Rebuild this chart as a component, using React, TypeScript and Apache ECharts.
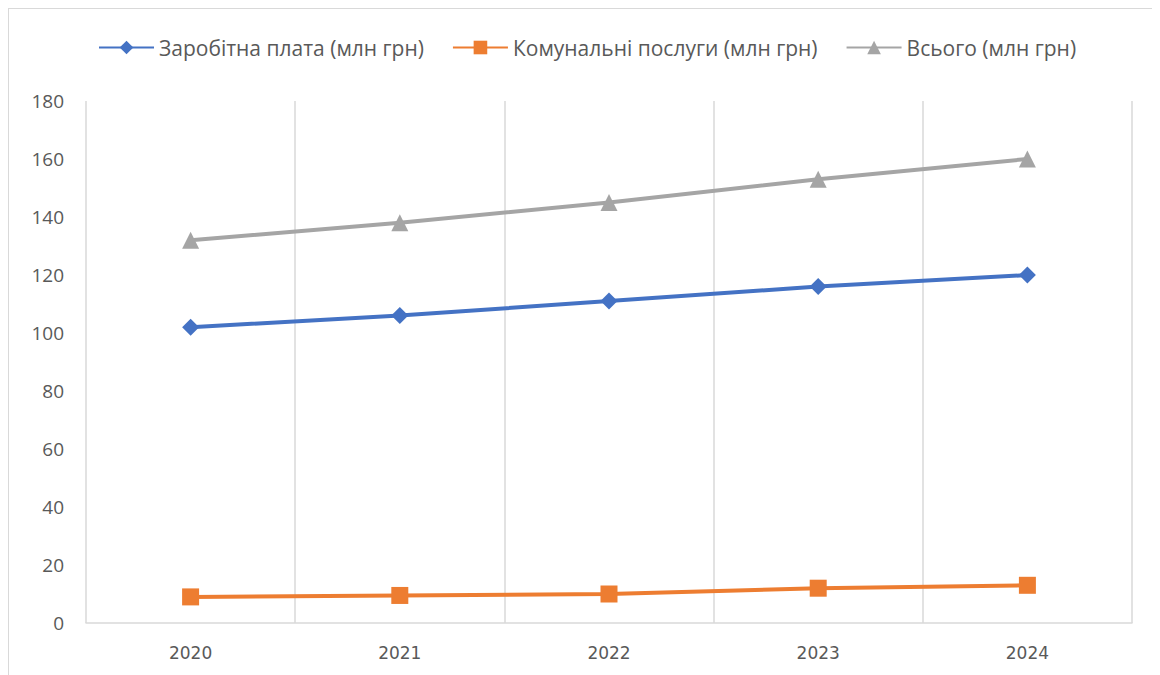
import React, { useEffect, useRef } from "react";
import * as echarts from "echarts";

const categories = ["2020", "2021", "2022", "2023", "2024"];
const salary = [102, 106, 111, 116, 120];
const utilities = [9, 9.5, 10, 12, 13];
const total = [132, 138, 145, 153, 160];
const seriesNames = [
  "Заробітна плата (млн грн)",
  "Комунальні послуги (млн грн)",
  "Всього (млн грн)",
];

export default function App() {
  const ref = useRef<HTMLDivElement>(null);
  useEffect(() => {
    if (!ref.current) return;
    const chart = echarts.init(ref.current, null, { renderer: "svg" });
    const font = "Open Sans, Noto Sans, sans-serif";
    chart.setOption({
      animation: false,
      textStyle: { fontFamily: font },
      legend: {
        top: 23,
        left: 84,
        itemWidth: 55,
        itemHeight: 17,
        itemGap: 28,
        textStyle: { fontSize: 21, color: "#595959", fontFamily: font },
        data: seriesNames,
      },
      grid: { left: 77, right: 28, top: 92, bottom: 52, containLabel: false },
      xAxis: {
        type: "category",
        data: categories,
        boundaryGap: true,
        axisLine: { lineStyle: { color: "#d9d9d9", width: 1.5 } },
        axisTick: { show: false },
        axisLabel: { fontSize: 17, color: "#595959", margin: 21, fontFamily: "DejaVu Sans" },
        splitLine: { show: true, lineStyle: { color: "#d9d9d9", width: 1.5 } },
      },
      yAxis: {
        type: "value",
        min: 0,
        max: 180,
        interval: 20,
        axisLine: { show: false },
        axisTick: { show: false },
        splitLine: { show: false },
        axisLabel: { fontSize: 19, color: "#595959", margin: 22 },
      },
      series: [
        {
          name: seriesNames[0],
          type: "line",
          data: salary,
          symbol: "diamond",
          symbolSize: 17,
          lineStyle: { width: 4, color: "#4472C4" },
          itemStyle: { color: "#4472C4" },
        },
        {
          name: seriesNames[1],
          type: "line",
          data: utilities,
          symbol: "rect",
          symbolSize: 17,
          lineStyle: { width: 4, color: "#ED7D31" },
          itemStyle: { color: "#ED7D31" },
        },
        {
          name: seriesNames[2],
          type: "line",
          data: total,
          symbol: "triangle",
          symbolSize: 17,
          lineStyle: { width: 4, color: "#A5A5A5" },
          itemStyle: { color: "#A5A5A5" },
        },
      ],
    });
    return () => chart.dispose();
  }, []);
  return (
    <div
      ref={ref}
      style={{
        width: 1152,
        height: 667,
        borderTop: "1px solid #d9d9d9",
        borderLeft: "1px solid #d9d9d9",
        boxSizing: "border-box",
      }}
    />
  );
}
